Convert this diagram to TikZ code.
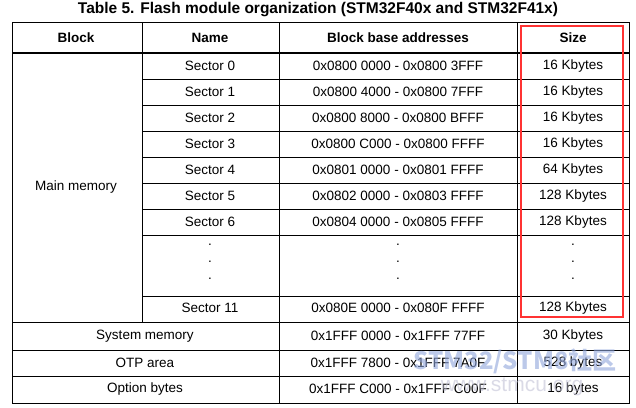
\documentclass[tikz,border=0pt]{standalone}
\usepackage{fontspec}
\setmainfont{Liberation Sans}
\newfontfamily\cjk{Noto Sans CJK SC}
\usepackage{tikz}

\tikzset{
  cell/.style={font=\fontsize{13.5}{15}\selectfont, anchor=center},
  head/.style={cell, font=\fontsize{13.5}{15}\selectfont\bfseries},
  rule/.style={line width=0.8pt},
}

\begin{document}
\begin{tikzpicture}[x=1pt,y=-1pt]
    \useasboundingbox (0,0) rectangle (636,407);
    \node[font=\fontsize{15.5}{17}\selectfont\bfseries] (T) at (318,10) {Table 5. Flash module organization (STM32F40x and STM32F41x)};
    % frame and columns
    \draw[rule] (12,22) rectangle (629,403);
    \draw[line width=2pt] (12,53) -- (629,53);
    \draw[rule] (142,22) -- (142,322);
    \draw[rule] (279,22) -- (279,403);
    \draw[rule] (517,22) -- (517,403);
    \foreach \y in {79,105,131,157,183,209,235,296}
        \draw[rule] (142,\y) -- (629,\y);
    \foreach \y in {322,350,376}
        \draw[rule] (12,\y) -- (629,\y);
    % header
    \node[head] (hB) at (76,38) {Block};
    \node[head] (hN) at (210,38) {Name};
    \node[head] (hA) at (398,38) {Block base addresses};
    \node[head] (hS) at (573,38) {Size};
    \node[cell] (main) at (76,187) {Main memory};
    % sectors
    \foreach \i/\a/\s [count=\k from 0] in {
        0/0x0800 0000 - 0x0800 3FFF/16 Kbytes,
        1/0x0800 4000 - 0x0800 7FFF/16 Kbytes,
        2/0x0800 8000 - 0x0800 BFFF/16 Kbytes,
        3/0x0800 C000 - 0x0800 FFFF/16 Kbytes,
        4/0x0801 0000 - 0x0801 FFFF/64 Kbytes,
        5/0x0802 0000 - 0x0803 FFFF/128 Kbytes,
        6/0x0804 0000 - 0x0805 FFFF/128 Kbytes}{
        \node[cell] (n\i) at (210,66+26*\k) {Sector \i};
        \node[cell] (a\i) at (398,66+26*\k) {\a};
        \node[cell] (s\i) at (573,66+26*\k) {\s};
    }
    \foreach \x in {210,398,573}
        \foreach \y in {248,265,282}
            \node[cell] at (\x,\y-3) {.};
    \node[cell] (n11) at (210,308) {Sector 11};
    \node[cell] (a11) at (398,308) {0x080E 0000 - 0x080F FFFF};
    \node[cell] (s11) at (573,308) {128 Kbytes};
    % other blocks
    \node[cell] (sys) at (145,336) {System memory};
    \node[cell] (asys) at (398,336) {0x1FFF 0000 - 0x1FFF 77FF};
    \node[cell] (ssys) at (573,336) {30 Kbytes};
    \node[cell] (otp) at (145,363) {OTP area};
    \node[cell] (aotp) at (398,363) {0x1FFF 7800 - 0x1FFF 7A0F};
    \node[cell] (sotp) at (573,363) {528 bytes};
    \node[cell] (opt) at (145,389) {Option bytes};
    \node[cell] (aopt) at (398,389) {0x1FFF C000 - 0x1FFF C00F};
    \node[cell] (sopt) at (573,389) {16 bytes};
    % highlight
    \draw[red!80!white, line width=2pt] (521,26) rectangle (623,317);
    % watermark
    \node[font=\fontsize{24}{26}\selectfont\bfseries\cjk, text=cyan!40!blue!45!white, opacity=0.6] (wm) at (515,361) {STM32/STM8社区};
    \node[font=\fontsize{21}{22}\selectfont, text=blue!20!gray!40!white, opacity=0.6] (url) at (512,387) {www.stmcu.org};
\end{tikzpicture}
\end{document}
